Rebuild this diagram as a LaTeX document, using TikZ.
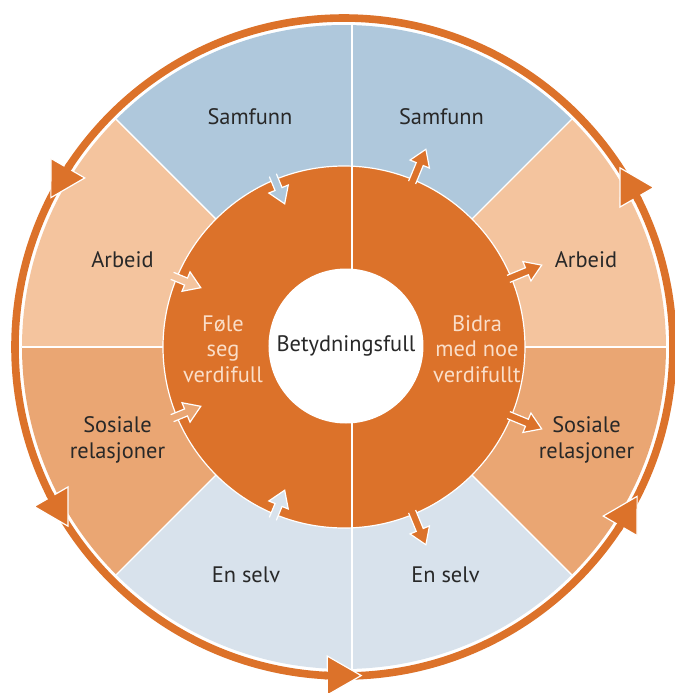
\documentclass[tikz,border=0pt]{standalone}
\usepackage{fontspec}
\setmainfont{PT Sans}
\usepackage{tikz}
\usetikzlibrary{calc}

\begin{document}
\begin{tikzpicture}
            [
                x=0.5pt, y=0.5pt,
                every node/.style={font=\fontsize{11.2}{12.8}\selectfont, align=center, text=labelGray},
                divider/.style={draw=white, line width=0.7pt},
                inner text/.style={text=paleText},
                core/.style={circle, fill=white, minimum size=77.5pt, inner sep=0pt},
                flow arrow/.style={fill=#1, draw=white, line width=0.6pt, line join=miter},
                ring/.style={draw=ringOrange, line width=3.8pt},
                ring tip/.style={fill=ringOrange, draw=white, line width=0.6pt, line join=miter}
            ]
            \definecolor{ringOrange}{RGB}{220, 114, 42}
            \definecolor{samBlue}{RGB}{175, 200, 220}
            \definecolor{arbPeach}{RGB}{244, 196, 158}
            \definecolor{sosPeach}{RGB}{234, 166, 115}
            \definecolor{selvBlue}{RGB}{216, 226, 236}
            \definecolor{labelGray}{RGB}{40, 40, 40}
            \definecolor{paleText}{RGB}{250, 222, 200}
            \useasboundingbox (-344,-346) rectangle (331,347);

            % outer sectors
            \foreach \from/\to/\col in {0/45/arbPeach, 45/135/samBlue, 135/180/arbPeach,
                                        180/225/sosPeach, 225/315/selvBlue, 315/360/sosPeach}
                \fill[\col] (0,0) -- (\from:322) arc[start angle=\from, end angle=\to, radius=322] -- cycle;
            \foreach \a in {0, 45, 135, 180, 225, 315}
                \draw[divider] (0,0) -- (\a:322);

            % inner ring
            \filldraw[fill=ringOrange, draw=white, line width=0.6pt] (0,0) circle[radius=181];
            \draw[divider] (8,322) -- (8,-322);

            % small arrows in and out of the ring
            \foreach \a/\col in {112.5/samBlue, 157.5/arbPeach, 202.5/sosPeach, 247.5/selvBlue}
                \filldraw[flow arrow=\col, rotate=\a]
                    (186,3.8) -- (171,3.8) -- (171,10.5) -- (155,0) -- (171,-10.5) -- (171,-3.8) -- (186,-3.8);
            \foreach \a in {67.5, 22.5, -22.5, -67.5}
                \filldraw[flow arrow=ringOrange, rotate=\a]
                    (178,3.8) -- (198,3.8) -- (198,10.5) -- (214,0) -- (198,-10.5) -- (198,-3.8) -- (178,-3.8);

            % circulating outer ring
            \draw[ring] (0,0) circle[radius=329];
            \foreach \a in {33, 153, 213, 273, 333}
            {
                \filldraw[ring tip, shift={(\a:329)}, rotate=\a+87]
                    (0,0) -- (-34,19.5) -- (-34,-19.5) -- cycle;
                \draw[ring] (\a-6.6:329) arc[start angle=\a-6.6, end angle=\a-5.4, radius=329];
            }

            % labels
            \node[core] (kjerne) at (2,1) {Betydningsfull};
            \node[inner text] (fole) at (-121,-2) {Føle\\seg\\verdifull};
            \node[inner text] (bidra) at (133,-2) {Bidra\\med noe\\verdifullt};
            \node (samL) at (-94,230) {Samfunn};
            \node (samR) at (97.5,230) {Samfunn};
            \node (arbL) at (-221.5,87) {Arbeid};
            \node (arbR) at (242,87) {Arbeid};
            \node (sosL) at (-226.5,-93) {Sosiale\\relasjoner};
            \node (sosR) at (242.5,-93) {Sosiale\\relasjoner};
            \node (selvL) at (-98,-228) {En selv};
            \node (selvR) at (101.5,-228) {En selv};
        \end{tikzpicture}
\end{document}
